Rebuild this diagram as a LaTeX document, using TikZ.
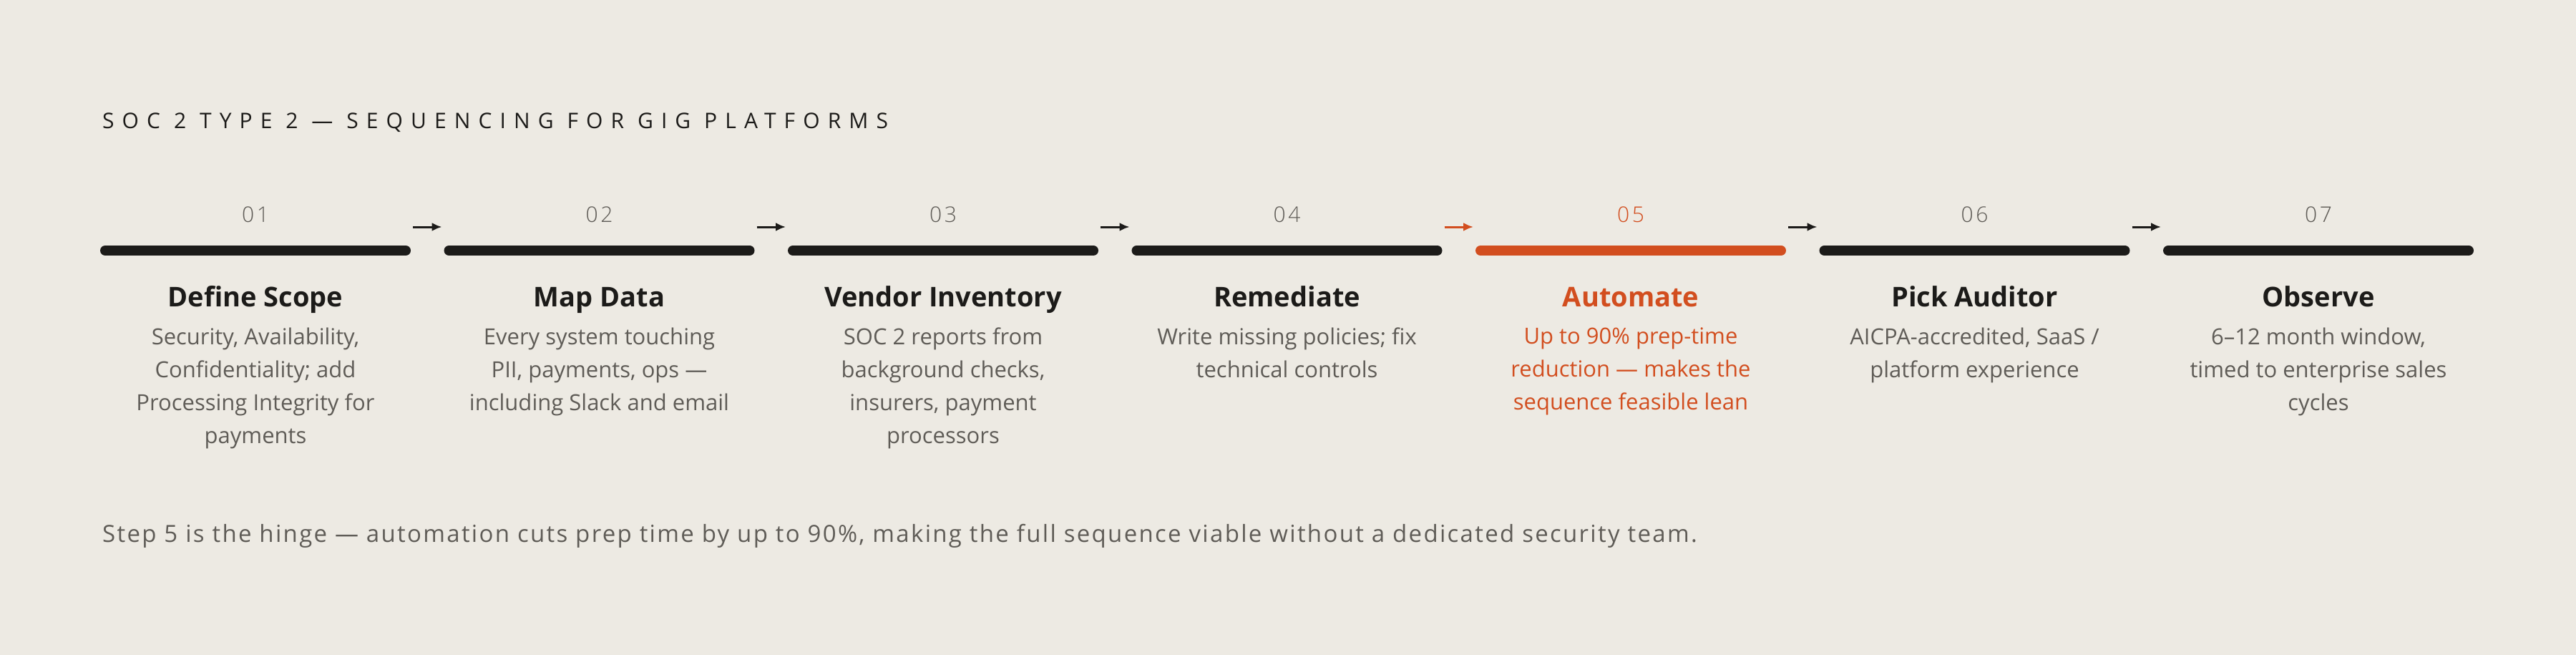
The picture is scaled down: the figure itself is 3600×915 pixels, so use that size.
\documentclass[tikz,border=0pt]{standalone}
\usepackage{fontspec}
\setmainfont{Open Sans}
\newfontfamily\hdr[LetterSpace=37]{Open Sans}
\newfontfamily\ftr[LetterSpace=7]{Open Sans}
\newfontfamily\num[LetterSpace=12]{Open Sans Light}
\usetikzlibrary{arrows.meta}
\definecolor{bg}{HTML}{EDEAE3}
\definecolor{ink}{HTML}{1C1B19}
\definecolor{gr}{HTML}{5F5C57}
\definecolor{org}{HTML}{D24E1F}
\begin{document}
\begin{tikzpicture}[x=1pt,y=-1pt,
  bar/.style={line width=14pt,line cap=round,draw=ink},
  arr/.style={line width=3pt,-{Latex[length=14pt,width=12pt]},draw=ink},
  numl/.style={font=\num\fontsize{30}{30}\selectfont,text=gr,anchor=base},
  ttl/.style={font=\bfseries\fontsize{38}{38}\selectfont,text=ink,anchor=base},
  dsc/.style={font=\fontsize{31}{46}\selectfont,text=gr,anchor=north,align=center,inner sep=0pt}]
\fill[bg] (0,0) rectangle (3600,915);
\useasboundingbox (0,0) rectangle (3600,915);
\node[anchor=base west,inner sep=0pt,font=\hdr\fontsize{30}{30}\selectfont,text=ink] (title) at (143,179) {SOC 2 TYPE 2 — SEQUENCING FOR GIG PLATFORMS};
\foreach \i/\n/\t/\d/\c in {
 1/01/Define Scope/{Security, Availability,\\Confidentiality; add\\Processing Integrity for\\payments}/ink,
 2/02/Map Data/{Every system touching\\PII, payments, ops —\\including Slack and email}/ink,
 3/03/Vendor Inventory/{SOC 2 reports from\\background checks,\\insurers, payment\\processors}/ink,
 4/04/Remediate/{Write missing policies; fix\\technical controls}/ink,
 5/05/Automate/{Up to 90\% prep-time\\reduction — makes the\\sequence feasible lean}/org,
 6/06/Pick Auditor/{AICPA-accredited, SaaS /\\platform experience}/ink,
 7/07/Observe/{6–12 month window,\\timed to enterprise sales\\cycles}/ink}{
  \pgfmathsetmacro\xa{147+(\i-1)*480.5}
  \pgfmathsetmacro\xc{\xa+210}
  \coordinate (a\i) at (\xa,350);
  \coordinate (b\i) at (\xa+420,350);
  \draw[bar,draw=\c] (a\i) -- (b\i);
  \ifnum\i=5
    \node[numl,text=org] (n\i) at (\xc,310) {\n};
    \node[ttl,text=org] (t\i) at (\xc,428) {\t};
    \node[dsc,text=org] (d\i) at (\xc,458) {\d};
  \else
    \node[numl] (n\i) at (\xc,310) {\n};
    \node[ttl] (t\i) at (\xc,428) {\t};
    \node[dsc] (d\i) at (\xc,458) {\d};
  \fi
}
\foreach \i/\j in {1/2,2/3,3/4,4/5,5/6,6/7}{
  \coordinate (s\i) at ([xshift=10pt,yshift=33pt]b\i);
  \coordinate (e\i) at ([xshift=-10pt,yshift=33pt]a\j);
}
\foreach \i in {1,2,3,5,6}{\draw[arr] (s\i) -- (e\i);}
\draw[arr,draw=org] (s4) -- (e4);
\node[anchor=base west,inner sep=0pt,font=\ftr\fontsize{33}{33}\selectfont,text=gr] (foot) at (143,757) {Step 5 is the hinge — automation cuts prep time by up to 90\%, making the full sequence viable without a dedicated security team.};
\end{tikzpicture}
\end{document}
